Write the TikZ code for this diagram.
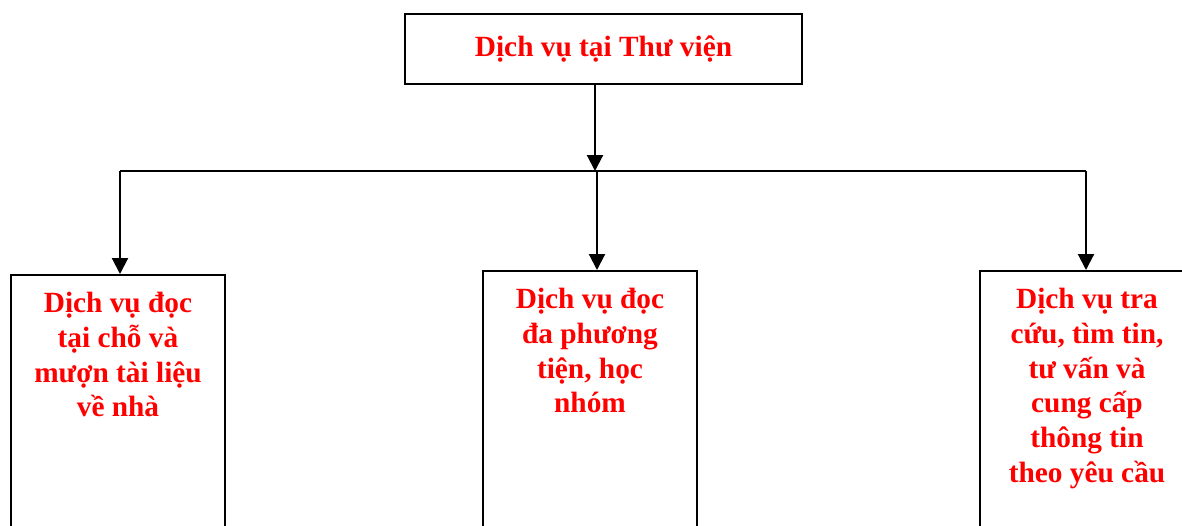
\documentclass[tikz,border=0pt]{standalone}
\usepackage{fontspec}
\setmainfont{Liberation Serif}
\usepackage{tikz}
\usetikzlibrary{arrows.meta}

\tikzset{
  dvbox/.style={draw, line width=1.6pt, rectangle, inner sep=0pt},
  dvtext/.style={text=red, font=\fontsize{22}{26}\selectfont\bfseries, align=center, inner sep=0.75pt},
  dvarrow/.style={line width=1.6pt, -{Triangle[width=12pt,length=12pt]}}
}

\begin{document}
\begin{tikzpicture}[x=0.75pt,y=0.75pt,yscale=-1,xscale=1]
	\useasboundingbox (0,0) rectangle (1182,525);
	\clip (0,0) rectangle (1182,525);

	%Shape: Rectangle [top]
	\node [dvbox, minimum width=297.75pt, minimum height=52.5pt] (top) at (603.5,49) {};
	%Shape: Rectangle [left]
	\node [dvbox, anchor=north, minimum width=160.5pt, minimum height=225pt] (lbox) at (118,274) {};
	%Shape: Rectangle [middle]
	\node [dvbox, anchor=north, minimum width=160.5pt, minimum height=225pt] (mbox) at (590,270) {};
	%Shape: Rectangle [right]
	\node [dvbox, anchor=north, minimum width=160.5pt, minimum height=225pt] (rbox) at (1087,270) {};

	% Junctions on the bar
	\coordinate (jl) at (120,171);
	\coordinate (jt) at (595,171);
	\coordinate (jm) at (597,171);
	\coordinate (jr) at (1086,171);

	%Straight Lines
	\draw [line width=1.6pt] (jl) -- (jr) ;
	\draw [dvarrow] (top.south -| jt) -- (jt) ;
	\draw [dvarrow] (jl) -- (jl |- lbox.north) ;
	\draw [dvarrow] (jm) -- (jm |- mbox.north) ;
	\draw [dvarrow] (jr) -- (jr |- rbox.north) ;

	% Text Node
	\node [dvtext] (ttext) at (top.center) {Dịch vụ tại Thư viện};
	% Text Node
	\node [dvtext, anchor=north] (ltext) at ([yshift=13]lbox.north) {Dịch vụ đọc\\tại chỗ và\\mượn tài liệu\\về nhà};
	% Text Node
	\node [dvtext, anchor=north] (mtext) at ([yshift=13]mbox.north) {Dịch vụ đọc\\đa phương\\tiện, học\\nhóm};
	% Text Node
	\node [dvtext, anchor=north] (rtext) at ([yshift=13]rbox.north) {Dịch vụ tra\\cứu, tìm tin,\\tư vấn và\\cung cấp\\thông tin\\theo yêu cầu};

\end{tikzpicture}
\end{document}
